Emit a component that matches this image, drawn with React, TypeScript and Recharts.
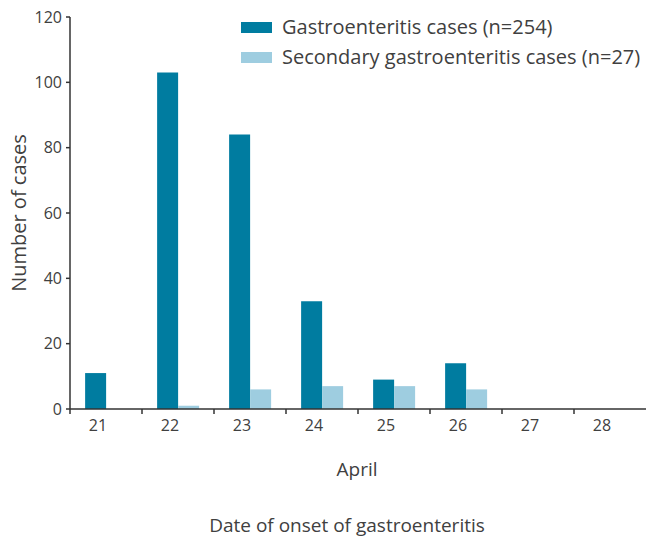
import React from 'react';
import { BarChart, Bar, XAxis, YAxis, Label } from 'recharts';

const days = ['21', '22', '23', '24', '25', '26', '27', '28'];
const gastroCases = [11, 103, 84, 33, 9, 14, 0, 0];
const secondaryCases = [0, 1, 6, 7, 7, 6, 0, 0];
const yTicks = [0, 20, 40, 60, 80, 100, 120];

const data = days.map((day, i) => ({
    day,
    gastro: gastroCases[i],
    secondary: secondaryCases[i],
}));

const FONT = '"Open Sans", sans-serif';
const TEXT = '#404040';
const DARK = '#007ca0';
const LIGHT = '#9ecde0';
const HALF_BAND = 36;

const legendItems = [
    { color: DARK, text: 'Gastroenteritis cases (n=254)' },
    { color: LIGHT, text: 'Secondary gastroenteritis cases (n=27)' },
];

const XTick = (props: any) => {
    const { x, y, payload } = props;
    return (
        <g>
            <line x1={x - HALF_BAND} y1={y} x2={x - HALF_BAND} y2={y + 5} stroke="#333" strokeWidth={1.5} />
            <text x={x - 8} y={y + 22} textAnchor="middle" fill={TEXT} fontSize={16} fontFamily={FONT}>
                {payload.value}
            </text>
        </g>
    );
};

const LegendBox = () => (
    <div
        style={{
            position: 'absolute',
            left: 241,
            top: 12,
            fontFamily: FONT,
            fontSize: 20,
            color: TEXT,
            lineHeight: '30px',
            whiteSpace: 'nowrap',
        }}
    >
        {legendItems.map((item) => (
            <div key={item.text} style={{ display: 'flex', alignItems: 'center' }}>
                <span style={{ width: 31, height: 11, background: item.color, marginRight: 10, display: 'inline-block' }} />
                <span>{item.text}</span>
            </div>
        ))}
    </div>
);

const XLabels = (props: any) => {
    const { viewBox } = props;
    return (
        <g fontFamily={FONT} fill={TEXT} fontSize={19}>
            <text x={357} y={viewBox.y + 67} textAnchor="middle">April</text>
            <text x={347} y={viewBox.y + 123} textAnchor="middle">Date of onset of gastroenteritis</text>
        </g>
    );
};

const YLabel = (props: any) => {
    const { viewBox } = props;
    const cy = viewBox.y + viewBox.height / 2;
    return (
        <text
            x={26}
            y={cy}
            transform={`rotate(-90, 26, ${cy})`}
            textAnchor="middle"
            fill={TEXT}
            fontSize={20}
            fontFamily={FONT}
        >
            Number of cases
        </text>
    );
};

const App: React.FC = () => {
    return (
        <div style={{ position: 'absolute', left: 0, top: 0, width: 646, height: 538 }}>
            <BarChart
                width={646}
                height={538}
                data={data}
                margin={{ top: 17, right: 0, left: 0, bottom: 99 }}
                barCategoryGap="21%"
                barGap={0}
            >
                <XAxis
                    dataKey="day"
                    tick={<XTick />}
                    tickLine={false}
                    tickSize={0}
                    tickMargin={0}
                    height={30}
                    axisLine={{ stroke: '#333', strokeWidth: 1.5 }}
                    interval={0}
                >
                    <Label content={<XLabels />} />
                </XAxis>
                <YAxis
                    width={70}
                    domain={[0, 120]}
                    ticks={yTicks}
                    tickSize={4}
                    tickMargin={4}
                    tick={{ fill: TEXT, fontSize: 16, fontFamily: FONT }}
                    axisLine={{ stroke: '#333', strokeWidth: 1.5 }}
                    tickLine={{ stroke: '#333', strokeWidth: 1.5 }}
                >
                    <Label content={<YLabel />} />
                </YAxis>
                <Bar dataKey="gastro" fill={DARK} isAnimationActive={false} />
                <Bar dataKey="secondary" fill={LIGHT} isAnimationActive={false} />
            </BarChart>
            <LegendBox />
        </div>
    );
};

export default App;
